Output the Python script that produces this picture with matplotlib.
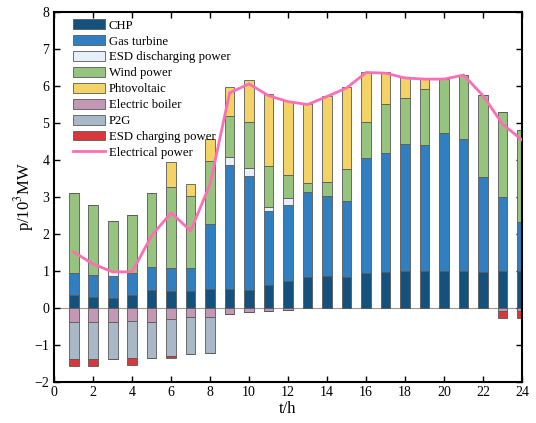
import numpy as np
import matplotlib
matplotlib.use("Agg")
import matplotlib.pyplot as plt

plt.rcParams['font.family'] = ['Liberation Serif', 'DejaVu Serif']
plt.rcParams['mathtext.fontset'] = 'stix'

hours = np.arange(1, 25)

# segment heights (10^3 MW)
chp = [0.34, 0.29, 0.26, 0.34, 0.48, 0.46, 0.46, 0.50, 0.50, 0.47, 0.62, 0.71,
       0.83, 0.87, 0.82, 0.95, 0.98, 1.00, 1.00, 1.00, 1.00, 0.98, 1.00, 1.00]
gas = [0.59, 0.59, 0.61, 0.60, 0.61, 0.62, 0.62, 1.77, 3.37, 3.10, 2.00, 2.07,
       2.29, 2.16, 2.08, 3.11, 3.20, 3.43, 3.40, 3.72, 3.57, 2.55, 2.00, 1.32]
esd_dis = [0, 0, 0.12, 0, 0, 0, 0, 0, 0.20, 0.20, 0.11, 0.19,
           0, 0, 0, 0, 0, 0, 0, 0, 0, 0, 0, 0]
wind = [2.18, 1.91, 1.35, 1.58, 2.01, 2.20, 1.95, 1.71, 1.13, 1.27, 1.11, 0.62,
        0.25, 0.38, 0.86, 0.98, 1.33, 1.25, 1.52, 1.47, 1.74, 2.23, 2.29, 2.49]
pv = [0, 0, 0, 0, 0, 0.66, 0.32, 0.59, 0.77, 1.12, 1.94, 2.01,
      2.14, 2.33, 2.21, 1.33, 0.86, 0.56, 0.27, 0, 0, 0, 0, 0]
boiler = [0.39, 0.39, 0.39, 0.36, 0.39, 0.31, 0.26, 0.24, 0.18, 0.13, 0.09, 0.05,
          0, 0, 0, 0, 0, 0.02, 0.02, 0.01, 0.02, 0.02, 0.08, 0.09]
p2g = [0.99, 0.99, 1.00, 1.00, 0.97, 1.01, 1.00, 1.00, 0, 0, 0, 0,
       0, 0, 0, 0, 0, 0, 0, 0, 0, 0, 0, 0]
esd_ch = [0.19, 0.19, 0, 0.20, 0, 0.04, 0, 0, 0, 0, 0, 0,
          0, 0, 0, 0, 0, 0, 0, 0, 0, 0, 0.21, 0.20]
load = [1.51, 1.18, 0.97, 0.97, 1.95, 2.57, 2.08, 3.35, 5.82, 6.06, 5.74, 5.58,
        5.50, 5.72, 5.95, 6.37, 6.35, 6.22, 6.19, 6.19, 6.30, 5.74, 4.97, 4.54]

pos = [("CHP", chp, '#14517c'),
       ("Gas turbine", gas, '#2f7fc1'),
       ("ESD discharging power", esd_dis, '#e7effa'),
       ("Wind power", wind, '#96c37d'),
       ("Phtovoltaic", pv, '#f3d266')]
neg = [("Electric boiler", boiler, '#c497b2'),
       ("P2G", p2g, '#a9b8c6'),
       ("ESD charging power", esd_ch, '#d8383a')]

fig = plt.figure(figsize=(5.36, 4.23), dpi=100)
ax = fig.add_axes([0.101, 0.098, 0.873, 0.873])

ax.axhline(0, color='0.6', lw=0.8, zorder=1)

w = 0.5
handles = []
bottom = np.zeros(24)
for name, vals, c in pos:
    v = np.array(vals)
    b = ax.bar(hours, v, w, bottom=bottom, color=c, edgecolor='0.35', lw=0.6,
               label=name, zorder=2)
    handles.append(b)
    bottom += v
bottom = np.zeros(24)
for name, vals, c in neg:
    v = np.array(vals)
    b = ax.bar(hours, -v, w, bottom=bottom, color=c, edgecolor='0.35', lw=0.6,
               label=name, zorder=2)
    handles.append(b)
    bottom -= v

ln, = ax.plot(hours, load, color='#ff6eb4', lw=2, label="Electrical power", zorder=3)
handles.append(ln)

ax.set_xlim(0, 24)
ax.set_ylim(-2, 8)
ax.set_xticks(np.arange(0, 25, 2))
ax.set_yticks(np.arange(-2, 9, 1))
ax.tick_params(direction='in', top=True, right=True, labelsize=10, length=4, width=1)
for s in ax.spines.values():
    s.set_linewidth(1.5)
ax.set_xlabel("t/h", fontsize=12, labelpad=1)
ax.set_ylabel("p/10$^3$MW", fontsize=12, labelpad=-1)

ax.legend(handles=handles, loc='upper left', bbox_to_anchor=(0.025, 1.0),
          frameon=False, fontsize=9.2, handlelength=2.5, handleheight=0.8,
          labelspacing=0.28, handletextpad=0.3, borderaxespad=0.15)

fig.savefig("out.png", dpi=100)
